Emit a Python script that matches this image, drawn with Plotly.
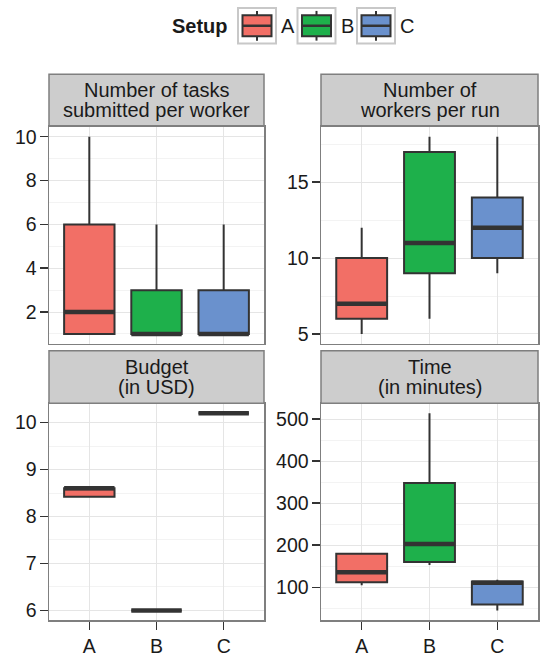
import plotly.graph_objects as go

# ---------------- data ----------------
setups = ["A", "B", "C"]
setup_colors = ["#F26F66", "#1EB04B", "#6A91CD"]

titles = [
    ["Number of tasks", "submitted per worker"],
    ["Number of", "workers per run"],
    ["Budget", "(in USD)"],
    ["Time", "(in minutes)"],
]

# box statistics per setup (A, B, C): lower whisker, q1, median, q3, upper whisker
tasks_low = [1, 1, 1]
tasks_q1 = [1, 1, 1]
tasks_med = [2, 1, 1]
tasks_q3 = [6, 3, 3]
tasks_high = [10, 6, 6]

workers_low = [5, 6, 9]
workers_q1 = [6, 9, 10]
workers_med = [7, 11, 12]
workers_q3 = [10, 17, 14]
workers_high = [12, 18, 18]

budget_low = [8.42, 6.0, 10.2]
budget_q1 = [8.42, 6.0, 10.2]
budget_med = [8.6, 6.0, 10.2]
budget_q3 = [8.6, 6.0, 10.2]
budget_high = [8.6, 6.0, 10.2]

time_low = [105, 153, 45]
time_q1 = [112, 160, 59]
time_med = [136, 203, 111]
time_q3 = [180, 348, 114]
time_high = [180, 514, 118]

y_major = [2, 5, 1, 100]
y_minor = [1, 2.5, 0.5, 50]

# ---------------- styling ----------------
W, H = 540, 657
FONT = "Liberation Sans, Arial, Helvetica, sans-serif"
BOX_W = 0.75
DARK = "#333333"
BORDER = "#7F7F7F"
GRID = "#E5E5E5"
MINOR = "#F3F3F3"
TXT = "#1A1A1A"


def px(x):  # page pixel -> paper fraction
    return x / W


def py(y):
    return 1 - y / H


panels = [
    dict(stats=(tasks_low, tasks_q1, tasks_med, tasks_q3, tasks_high), xd=(49, 264), yd=(127, 346), showx=False),
    dict(stats=(workers_low, workers_q1, workers_med, workers_q3, workers_high), xd=(321, 538), yd=(127, 346), showx=False),
    dict(stats=(budget_low, budget_q1, budget_med, budget_q3, budget_high), xd=(49, 264), yd=(406, 625), showx=True),
    dict(stats=(time_low, time_q1, time_med, time_q3, time_high), xd=(321, 538), yd=(406, 625), showx=True),
]

fig = go.Figure()
shapes = []
annotations = []
xs = list(range(1, len(setups) + 1))

for p, panel in enumerate(panels):
    suffix = "" if p == 0 else str(p + 1)
    xa, ya = "x" + suffix, "y" + suffix
    low, q1, med, q3, high = panel["stats"]
    for i, s in enumerate(setups):
        fig.add_trace(go.Box(
            x=[xs[i]], lowerfence=[low[i]], q1=[q1[i]], median=[med[i]], q3=[q3[i]],
            upperfence=[high[i]], width=BOX_W, whiskerwidth=0,
            fillcolor=setup_colors[i], line=dict(color=DARK, width=2),
            name=s, xaxis=xa, yaxis=ya, showlegend=False, boxpoints=False,
        ))
    # thick median lines (ggplot style)
    mx, my = [], []
    for i in range(len(setups)):
        mx += [xs[i] - BOX_W / 2, xs[i] + BOX_W / 2, None]
        my += [med[i], med[i], None]
    fig.add_trace(go.Scatter(x=mx, y=my, mode="lines", line=dict(color=DARK, width=4.5),
                             xaxis=xa, yaxis=ya, showlegend=False, hoverinfo="skip"))

    lo, hi = min(low), max(high)
    pad = 0.05 * (hi - lo)
    x0, x1 = panel["xd"]
    y0, y1 = panel["yd"]
    common = dict(showline=True, mirror=True, linecolor=BORDER, linewidth=1.5,
                  showgrid=True, gridcolor=GRID, gridwidth=1, zeroline=False,
                  tickcolor=DARK, tickwidth=1.5, ticklen=8,
                  tickfont=dict(size=19.5, color=TXT, family=FONT))
    fig.layout["xaxis" + suffix] = dict(
        domain=[px(x0), px(x1)], range=[0.4, len(setups) + 0.6], anchor=ya,
        tickvals=xs, ticktext=setups, ticks="outside" if panel["showx"] else "",
        showticklabels=panel["showx"], ticklabelstandoff=0, **common)
    fig.layout["yaxis" + suffix] = dict(
        domain=[py(y1), py(y0)], range=[lo - pad, hi + pad], anchor=xa,
        tick0=0, dtick=y_major[p], ticks="outside", ticklabelstandoff=-1,
        minor=dict(dtick=y_minor[p], tick0=0, showgrid=True, gridcolor=MINOR, gridwidth=1, ticks=""),
        **common)

    # facet strip
    sy0, sy1 = (74, 126) if y0 < 200 else (353, 406)
    shapes.append(dict(type="rect", xref="paper", yref="paper", x0=px(x0), x1=px(x1),
                       y0=py(sy1), y1=py(sy0), fillcolor="#CDCDCD",
                       line=dict(color=BORDER, width=1.5), layer="above"))
    cy = (sy0 + sy1) / 2
    for k, line in enumerate(titles[p]):
        annotations.append(dict(text=line, xref="paper", yref="paper", x=px((x0 + x1) / 2),
                                y=py(cy - 10 + 20 * k), showarrow=False, xanchor="center",
                                yanchor="middle", font=dict(size=20, color=TXT, family=FONT)))

# ---------------- legend (ggplot-style keys) ----------------
annotations.append(dict(text="<b>Setup</b>", xref="paper", yref="paper", x=px(230), y=py(25.5),
                        showarrow=False, xanchor="right", yanchor="middle",
                        font=dict(size=20, color=TXT, family=FONT)))
for i, s in enumerate(setups):
    kx0 = 238 + 59.5 * i
    kx1 = kx0 + 38
    kcx = (kx0 + kx1) / 2
    shapes.append(dict(type="rect", xref="paper", yref="paper", x0=px(kx0), x1=px(kx1),
                       y0=py(43), y1=py(7), fillcolor="white", line=dict(color="#C8C8C8", width=2)))
    shapes.append(dict(type="line", xref="paper", yref="paper", x0=px(kcx), x1=px(kcx),
                       y0=py(40), y1=py(10), line=dict(color=DARK, width=2)))
    shapes.append(dict(type="rect", xref="paper", yref="paper", x0=px(kx0 + 4.5), x1=px(kx1 - 4.5),
                       y0=py(35.5), y1=py(14.5), fillcolor=setup_colors[i], line=dict(color=DARK, width=2)))
    shapes.append(dict(type="line", xref="paper", yref="paper", x0=px(kx0 + 4.5), x1=px(kx1 - 4.5),
                       y0=py(25), y1=py(25), line=dict(color=DARK, width=2.5)))
    annotations.append(dict(text=s, xref="paper", yref="paper", x=px(kx1 + 3), y=py(25.5),
                            showarrow=False, xanchor="left", yanchor="middle",
                            font=dict(size=20, color=TXT, family=FONT)))

fig.update_layout(
    width=W, height=H, margin=dict(l=0, r=0, t=0, b=0),
    plot_bgcolor="white", paper_bgcolor="white", showlegend=False,
    font=dict(family=FONT, size=19, color=TXT),
    shapes=shapes, annotations=annotations, boxmode="overlay",
)

# remove the browser's default page margin so the figure fills the window exactly
fig.write_html(
    "out.html",
    config={"displayModeBar": False, "staticPlot": True},
    post_script="document.body.style.margin='0px';document.body.style.overflow='hidden';",
)
